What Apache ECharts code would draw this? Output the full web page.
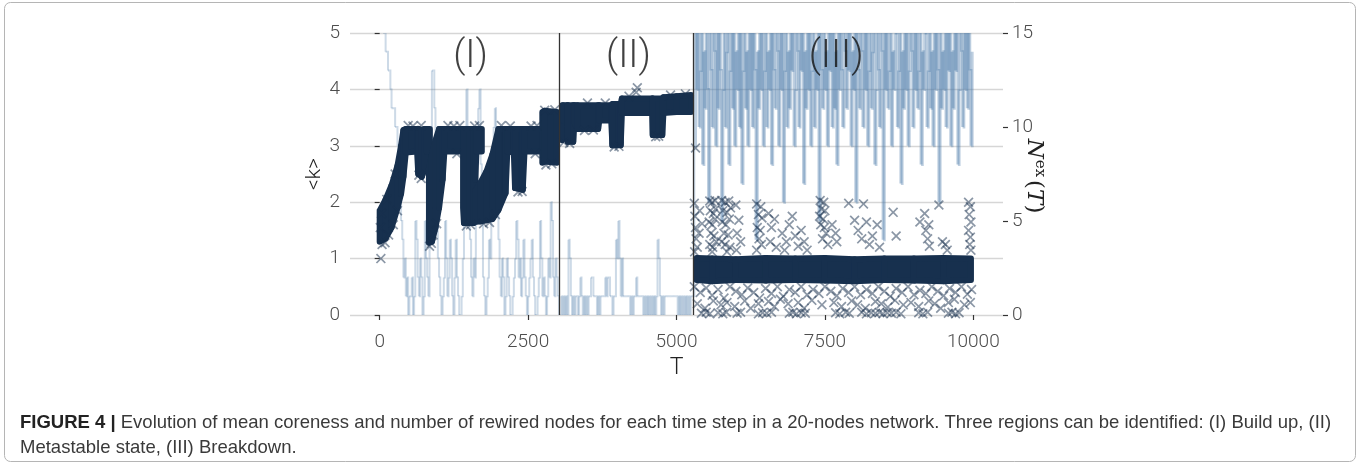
<!DOCTYPE html>
<html>
<head>
<meta charset="utf-8">
<script src="https://cdn.jsdelivr.net/npm/echarts@6/dist/echarts.min.js"></script>
<style>
  html, body { margin: 0; padding: 0; background: #fff; }
  #chart { width: 1360px; height: 465px; }
</style>
</head>
<body>
<div id="chart"></div>
<script>
// ---------------- data ----------------
const xTicks = [0, 2500, 5000, 7500, 10000];
const regionBreaks = [3030, 5290];
const regionNames = ['(I)', '(II)', '(III)'];
const regionLabelT = [1530, 4190, 7690];
const regionLabelK = 4.56;

// Number of rewired nodes, sampled every nexStep time steps from T = 0
const nexStep = 20;
const nexValues = [
  // (I) build up
  17,17,16,15,15,14,14,13,13,12, 11,11,11,10,10,9,8,6,5,4,
  2,3,1,2,0,1,1,2,0,1, 5,4,2,1,3,2,0,1,5,3,
  2,1,4,6,13,13,11,9,6,3, 2,1,0,1,2,5,3,1,2,4,
  3,1,0,2,4,2,1,0,0,1, 3,5,8,12,10,6,4,2,1,3,
  2,6,9,11,12,8,5,2,1,0, 1,2,4,3,5,7,10,11,8,6,
  4,2,1,3,2,0,1,3,2,1, 0,0,1,2,3,5,4,2,3,1,
  2,4,2,1,0,1,2,3,4,2, 1,0,0,1,2,5,3,1,2,1,
  0,1,3,2,6,5,2,1,3,2, 1,0,
  // (II) metastable state
  0,1,0,1,0,1,0,4,3,1, 0,1,0,1,1,0,1,2,1,0,
  1,0,1,0,1,1,2,2,1,1, 1,0,1,0,1,1,1,1,2,1,
  2,2,1,1,0,1,1,4,3,5, 3,1,3,1,1,1,1,1,1,0,
  1,0,1,1,2,1,1,1,1,1, 0,1,0,1,0,1,0,1,0,1,
  0,1,4,3,1,0,1,0,1,1, 1,1,1,1,1,1,1,1,1,0,
  1,0,1,0,1,0,1,0,1,0, 1,1,1,
  // (III) breakdown
  9,15,12,17,10,13,16,8,14,11, 17,12,6,15,13,10,16,14,9,17,
  11,15,13,5,12,16,10,14,17,8, 13,15,11,16,9,14,12,17,10,15,
  7,13,16,11,14,9,17,12,15,10, 16,13,4,14,11,17,12,15,9,13,
  16,10,14,12,17,8,15,13,11,16, 14,9,17,12,15,6,13,16,10,14,
  11,17,13,15,9,12,16,14,10,15, 13,17,7,14,11,16,12,15,9,13,
  17,10,14,12,16,5,15,13,11,17, 12,14,9,16,13,15,10,17,11,14,
  8,15,12,16,13,10,17,14,11,15, 13,16,9,14,12,17,6,15,13,11,
  16,14,10,17,12,15,9,13,16,11, 14,17,8,12,15,13,10,16,14,4,
  15,12,17,11,13,16,9,14,12,15, 17,10,13,16,7,14,11,15,12,17,
  9,13,16,14,10,15,12,17,11,13, 16,8,14,12,15,17,10,13,16,11,
  14,9,17,12,15,13,6,16,11,14, 12,17,10,15,13,16,9,14,11,17,
  13,15,8,12,16,14,10,17,12,15, 11,16,13,9,14
];

// Dense clouds of <k>: rows of [T, lowest k, highest k]
const bandA = [[0,1.30,1.85],[100,1.36,2.05],[200,1.55,2.3],[300,1.9,2.65],[360,2.15,3.0],[400,2.45,3.28],[440,2.88,3.3],[630,2.9,3.3],[650,2.5,3.3],[710,2.45,3.28],[760,2.6,3.3],[790,2.9,3.3],[845,2.9,3.3]];
const bandB = [[830,1.28,2.6],[880,1.3,2.85],[940,1.55,3.1],[1000,1.9,3.3],[1060,2.4,3.3],[1090,2.9,3.3],[1410,2.9,3.3]];
const bandC = [[1405,1.9,3.3],[1420,1.63,3.3],[1580,1.63,3.3],[1610,2.4,3.3],[1630,2.9,3.3],[1720,2.9,3.3]];
const bandD = [[1610,1.65,2.2],[1700,1.66,2.35],[1800,1.68,2.55],[1900,1.7,2.85],[2000,1.86,3.3],[2120,2.16,3.3],[2150,2.9,3.3],[2260,2.88,3.3],[2280,2.25,3.3],[2410,2.22,3.3],[2440,2.9,3.3],[2745,2.9,3.3]];
const bandE = [[2740,2.7,3.6],[2780,2.72,3.62],[2985,2.7,3.6]];
const bandII = [[3075,3.1,3.72],[3090,3.45,3.72],[3160,3.45,3.72],[3170,3.07,3.72],[3260,3.07,3.72],[3280,3.42,3.72],[3330,3.3,3.72],[3680,3.3,3.72],[3700,3.45,3.72],[3900,3.45,3.72],[3920,3.01,3.74],[4060,3.01,3.74],[4080,3.58,3.84],[4590,3.58,3.84],[4600,3.19,3.84],[4760,3.19,3.84],[4780,3.58,3.86],[5000,3.6,3.88],[5245,3.6,3.9]];
const bandIII = [[5340,0.62,1.01],[5600,0.6,1.0],[6000,0.62,0.99],[6500,0.61,1.01],[7000,0.62,1.0],[7500,0.61,1.01],[8000,0.6,0.99],[8500,0.62,1.0],[9000,0.61,1.0],[9500,0.6,1.01],[9960,0.62,1.0]];

// Individual <k> values outside the dense clouds: [T, k]
const kPointsEarly = [
  [20,1.0],[10,1.55],[30,1.8],[40,1.25],[90,1.28],[150,1.42],[230,1.6],[300,1.85],[120,2.05],[260,2.5],
  [480,3.36],[560,3.35],[700,3.36],[700,2.42],[660,2.48],[840,1.22],[870,1.27],[900,1.42],[960,1.62],
  [1150,3.36],[1250,3.35],[1300,2.86],[1350,3.36],
  [1460,1.58],[1530,1.6],[1750,1.62],[1850,1.64],[1950,1.78],[1600,3.35],[1680,3.36],[2050,3.36],[2200,3.35],[2330,2.18],
  [2400,2.19],[2550,3.35],[2650,3.36],[2620,2.86],[2900,2.68],[2800,2.66],[2780,3.63],[2950,3.64],
  [3200,3.04],[3100,3.06],[3450,3.27],[3600,3.28],[3950,2.98],[4030,2.99],[4650,3.16],[4700,3.17],[4340,4.03],
  [4320,3.95],[3500,3.76],[3800,3.76],[4200,3.88],[4900,3.9],[5150,3.92],[5320,2.96]
];
const kPointsHigh = [
  [5300,1.98],[5310,1.75],[5320,1.55],[5330,1.35],[5350,1.2],[5380,1.45],[5390,1.85],[5305,1.12],[5430,1.62],
  [5560,2.02],[5600,2.0],[5650,2.03],[5570,1.85],[5620,1.8],[5660,1.88],[5550,1.65],[5600,1.6],[5650,1.7],
  [5580,1.45],[5630,1.4],[5560,1.25],[5610,1.2],[5670,1.3],[5600,1.12],
  [5760,2.03],[5820,2.0],[5880,2.02],[5780,1.85],[5850,1.82],[5910,1.9],[5770,1.65],[5830,1.6],[5890,1.7],
  [5800,1.45],[5870,1.42],[5760,1.3],[5820,1.25],[5900,1.2],[5850,1.12],
  [6000,1.95],[6050,1.68],[6020,1.45],[6080,1.3],[6010,1.15],
  [6350,1.97],[6420,1.92],[6380,1.78],[6440,1.72],[6360,1.55],[6410,1.5],[6390,1.35],[6430,1.25],[6350,1.15],
  [6550,1.8],[6600,1.55],[6650,1.7],[6580,1.3],[6680,1.2],
  [6780,1.45],[6850,1.3],[6900,1.6],[6950,1.75],[7000,1.4],[7050,1.22],[7100,1.5],[7150,1.3],[7200,1.15],[6820,1.15],
  [7420,2.03],[7480,2.0],[7440,1.88],[7500,1.85],[7410,1.75],[7470,1.7],[7430,1.6],[7490,1.55],[7520,1.45],[7460,1.35],[7550,1.25],
  [7620,1.6],[7680,1.45],[7700,1.3],
  [7900,1.98],[8150,1.97],[8000,1.68],[8060,1.5],[8120,1.35],[8200,1.65],[8250,1.25],[8300,1.4],[8380,1.6],[8420,1.2],
  [8650,1.82],[8700,1.4],
  [9100,1.65],[9180,1.8],[9200,1.5],[9230,1.35],[9250,1.6],[9260,1.22],
  [9420,1.95],[9480,1.3],[9530,1.25],[9560,1.15],
  [9920,2.0],[9950,1.92],[9930,1.78],[9960,1.65],[9920,1.5],[9950,1.38],[9940,1.25],[9960,1.15]
];
const kPointsLow = [
  [5300,0.5],[5400,0.4],[5500,0.48],[5600,0.35],[5700,0.45],[5800,0.3],[5900,0.5],[6000,0.42],[6100,0.36],[6200,0.48],
  [6300,0.4],[6400,0.3],[6500,0.47],[6600,0.38],[6700,0.5],[6800,0.33],[6900,0.45],[7000,0.4],[7100,0.5],[7200,0.36],
  [7300,0.45],[7400,0.38],[7500,0.5],[7600,0.42],[7700,0.34],[7800,0.47],[7900,0.4],[8000,0.5],[8100,0.36],[8200,0.45],
  [8300,0.38],[8400,0.5],[8500,0.42],[8600,0.33],[8700,0.47],[8800,0.4],[8900,0.5],[9000,0.36],[9100,0.44],[9200,0.38],
  [9300,0.5],[9400,0.42],[9500,0.34],[9600,0.47],[9700,0.4],[9800,0.5],[9900,0.37],[9970,0.45],
  [5350,0.2],[5480,0.12],[5620,0.25],[5750,0.18],[5850,0.22],[5980,0.15],[6150,0.25],[6250,0.12],[6380,0.2],[6550,0.24],
  [6650,0.15],[6750,0.28],[6880,0.2],[7050,0.22],[7150,0.12],[7280,0.26],[7450,0.18],[7650,0.22],[7780,0.15],[7950,0.25],
  [8050,0.18],[8180,0.12],[8350,0.24],[8450,0.2],[8560,0.14],[8680,0.26],[8820,0.18],[8950,0.22],[9080,0.15],[9250,0.25],
  [9350,0.2],[9450,0.12],[9580,0.22],[9680,0.28],[9850,0.18],[9950,0.22],
  [5420,0.03],[5500,0.05],[5560,0.02],[5700,0.04],[5780,0.02],[5840,0.05],[6020,0.03],[6080,0.05],[6380,0.02],[6450,0.04],
  [6520,0.03],[6600,0.05],[6900,0.03],[6960,0.05],[7020,0.02],[7100,0.04],[7170,0.03],[7680,0.04],[7750,0.02],[7850,0.05],
  [7910,0.03],[8120,0.05],[8200,0.02],[8280,0.04],[8350,0.03],[8420,0.05],[8480,0.02],[8550,0.04],[8620,0.03],[8700,0.05],
  [8780,0.02],[9080,0.04],[9150,0.02],[9230,0.05],[9580,0.03],[9640,0.05],[9700,0.02],[9760,0.04]
];

// ---------------- drawing ----------------
const NAVY = '#17304e';
const STEEL = '#4b7aa8';
const LIGHT_FONT = 'Roboto, "Liberation Sans", sans-serif';
const TICK_FONT = { fontFamily: LIGHT_FONT, fontWeight: 300, fontSize: 19, color: '#4d4d4d' };
// a thin "x" glyph
const CROSS = 'path://M0,1.2L1.2,0L5,3.8L8.8,0L10,1.2L6.2,5L10,8.8L8.8,10L5,6.2L1.2,10L0,8.8L3.8,5Z';

// step segments of N_ex: [t0, v0, t1, v1]
const nexSegments = [];
for (let i = 0; i < nexValues.length - 1; i++) {
  nexSegments.push([i * nexStep, nexValues[i], (i + 1) * nexStep, nexValues[i + 1]]);
}
// quads of the dense <k> clouds: [t0, lo0, hi0, t1, lo1, hi1]
const bandQuads = [];
[bandA, bandB, bandC, bandD, bandE, bandII, bandIII].forEach(b => {
  for (let i = 0; i < b.length - 1; i++) bandQuads.push(b[i].concat(b[i + 1]));
});

const chart = echarts.init(document.getElementById('chart'), null, { renderer: 'canvas' });

chart.setOption({
  animation: false,
  backgroundColor: '#fff',
  grid: { left: 350, right: 357, top: 33, bottom: 150, containLabel: false },
  xAxis: {
    type: 'value', min: -500, max: 10500,
    offset: 7,
    name: 'T', nameLocation: 'middle', nameGap: 34,
    nameTextStyle: { fontFamily: LIGHT_FONT, fontWeight: 300, fontSize: 23, color: '#222' },
    axisLine: { show: false },
    axisTick: { show: true, length: 5, customValues: xTicks, lineStyle: { color: '#333', width: 1.2 } },
    axisLabel: Object.assign({ margin: 11, customValues: xTicks, formatter: v => String(v) }, TICK_FONT),
    splitLine: { show: false }
  },
  yAxis: [
    {
      type: 'value', min: 0, max: 5, interval: 1,
      name: '<k>', nameLocation: 'middle', nameGap: 25, nameRotate: 90,
      nameTextStyle: { fontFamily: LIGHT_FONT, fontWeight: 300, fontSize: 21, color: '#222' },
      axisLine: { show: false },
      axisTick: { show: true, length: 5, lineStyle: { color: '#333', width: 1.2 } },
      axisLabel: Object.assign({ margin: 10 }, TICK_FONT),
      splitLine: { show: true, lineStyle: { color: '#d6d6d6', width: 1.3 } }
    },
    {
      type: 'value', min: 0, max: 15, interval: 5, position: 'right',
      axisLine: { show: false },
      axisTick: { show: true, length: 5, lineStyle: { color: '#333', width: 1.2 } },
      axisLabel: Object.assign({ margin: 9 }, TICK_FONT),
      splitLine: { show: false }
    }
  ],
  series: [
    {
      name: 'Nex', type: 'custom', yAxisIndex: 1, z: 1, clip: true, silent: true,
      data: nexSegments,
      renderItem: (params, api) => {
        const late = api.value(0) >= regionBreaks[1];
        const a = api.coord([api.value(0), api.value(1)]);
        const b = api.coord([api.value(2), api.value(1)]);
        const c = api.coord([api.value(2), api.value(3)]);
        return { type: 'polyline', shape: { points: [a, b, c] },
          style: { stroke: STEEL, lineWidth: late ? 3 : 2, fill: null, opacity: late ? 0.36 : 0.28 } };
      }
    },
    {
      name: 'k cloud', type: 'custom', yAxisIndex: 0, z: 2, clip: true, silent: true,
      data: bandQuads,
      renderItem: (params, api) => {
        const p = [
          api.coord([api.value(0), api.value(1)]),
          api.coord([api.value(3), api.value(4)]),
          api.coord([api.value(3), api.value(5)]),
          api.coord([api.value(0), api.value(2)])
        ];
        return { type: 'polygon', shape: { points: p },
          style: { fill: NAVY, stroke: NAVY, lineWidth: 6, lineJoin: 'round' } };
      }
    },
    {
      name: 'k', type: 'scatter', yAxisIndex: 0, z: 3, silent: true,
      symbol: CROSS, symbolSize: 10,
      itemStyle: { color: NAVY, opacity: 0.5 },
      data: kPointsEarly.concat(kPointsHigh, kPointsLow),
      markLine: {
        silent: true, symbol: 'none', label: { show: false },
        lineStyle: { color: '#333', width: 1.3, type: 'solid' },
        data: regionBreaks.map(t => ({ xAxis: t }))
      }
    },
    {
      name: 'regions', type: 'scatter', yAxisIndex: 0, z: 4, silent: true,
      symbolSize: 0,
      data: regionLabelT.map((t, i) => ({ value: [t, regionLabelK], label: { formatter: regionNames[i] } })),
      label: { show: true, position: 'inside', fontFamily: LIGHT_FONT,
        fontWeight: 300, fontSize: 38, color: '#111' }
    }
  ],
  graphic: [
    {
      type: 'rect', silent: true, z: 0,
      shape: { x: 4.5, y: 2.5, width: 1351, height: 459, r: 6 },
      style: { fill: 'none', stroke: '#b5b5b5', lineWidth: 1 }
    },
    {
      type: 'text', silent: true, x: 1034, y: 176, rotation: -Math.PI / 2,
      style: {
        text: '{i|N}{s|ex}{r|(}{i|T}{r|)}',
        align: 'center', verticalAlign: 'middle',
        rich: {
          i: { fontFamily: '"DejaVu Serif", serif', fontStyle: 'italic', fontSize: 23, fill: '#222' },
          s: { fontFamily: '"DejaVu Serif", serif', fontSize: 15, fill: '#222', verticalAlign: 'top', padding: [0, 3, 12, 1] },
          r: { fontFamily: '"DejaVu Serif", serif', fontSize: 23, fill: '#222' }
        }
      }
    },
    {
      type: 'text', silent: true, x: 20, y: 410,
      style: {
        text: '{b|FIGURE 4 |} Evolution of mean coreness and number of rewired nodes for each time step in a 20-nodes network. Three regions can be identified: (I) Build up, (II)\nMetastable state, (III) Breakdown.',
        fontFamily: '"Liberation Sans", Arial, sans-serif', fontSize: 18.5, fill: '#3a3a3a', lineHeight: 25,
        rich: { b: { fontFamily: '"Liberation Sans", Arial, sans-serif', fontSize: 18.5, fontWeight: 'bold', fill: '#222', lineHeight: 25 } }
      }
    }
  ]
});
</script>
</body>
</html>
